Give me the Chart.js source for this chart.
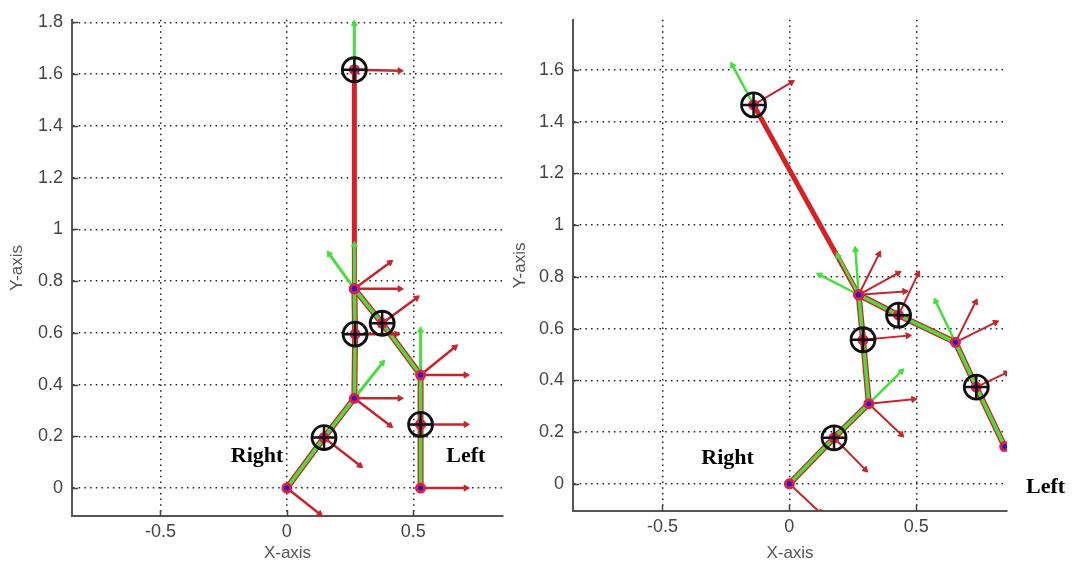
<!DOCTYPE html>
<html>
<head>
<meta charset="utf-8">
<script src="https://cdn.jsdelivr.net/npm/chart.js@4.4.0/dist/chart.umd.min.js"></script>
<style>
  html, body { margin: 0; padding: 0; background: #fff; }
  #wrap { position: relative; width: 1073px; height: 568px; overflow: hidden; }
  canvas { position: absolute; top: 0; }
</style>
</head>
<body>
<div id="wrap">
  <canvas id="leftChart" width="520" height="568" style="left:0"></canvas>
  <canvas id="rightChart" width="568" height="568" style="left:505px"></canvas>
</div>
<script>
// tick values
const xTicks = [-0.5, 0, 0.5];
const leftYTicks = [0, 0.2, 0.4, 0.6, 0.8, 1, 1.2, 1.4, 1.6, 1.8];
const rightYTicks = [0, 0.2, 0.4, 0.6, 0.8, 1, 1.2, 1.4, 1.6];

// left pose: joints [x, y]
const leftTorso = [[0.267, 0.77], [0.267, 1.617]];
const leftLegR = [[0.267, 0.77], [0.27, 0.595], [0.267, 0.347], [0.147, 0.195], [0, 0]];
const leftLegL = [[0.267, 0.77], [0.377, 0.637], [0.529, 0.437], [0.529, 0.246], [0.529, 0]];
const leftRings = [[0.267, 1.617], [0.27, 0.595], [0.377, 0.637], [0.147, 0.195], [0.529, 0.246]];
// frame axes [x0, y0, x1, y1]
const leftGreen = [
  [0.267, 1.617, 0.267, 1.795], [0.267, 0.77, 0.267, 0.94], [0.267, 0.77, 0.167, 0.905],
  [0.267, 0.347, 0.378, 0.484], [0.529, 0.437, 0.529, 0.61]
];
const leftRed = [
  [0.267, 1.617, 0.447, 1.613], [0.267, 0.77, 0.408, 0.872], [0.267, 0.77, 0.447, 0.77],
  [0.377, 0.637, 0.513, 0.735], [0.27, 0.595, 0.434, 0.595], [0.529, 0.437, 0.665, 0.545],
  [0.529, 0.437, 0.708, 0.437], [0.529, 0.246, 0.708, 0.246], [0.529, 0, 0.708, 0],
  [0.267, 0.347, 0.447, 0.347], [0.267, 0.347, 0.408, 0.242], [0.147, 0.195, 0.289, 0.087],
  [0, 0, 0.13, -0.1]
];
const leftLabels = [["Right", -0.118, 0.121], ["Left", 0.708, 0.121]];

// right pose
const rightTorso = [[0.273, 0.731], [-0.141, 1.465]];
const rightLegR = [[0.273, 0.731], [0.29, 0.557], [0.313, 0.31], [0.176, 0.178], [0, 0]];
const rightLegL = [[0.273, 0.731], [0.43, 0.652], [0.654, 0.547], [0.736, 0.374], [0.848, 0.144]];
const rightRings = [[-0.141, 1.465], [0.29, 0.557], [0.43, 0.652], [0.176, 0.178], [0.736, 0.374]];
const rightGreen = [
  [-0.141, 1.465, -0.224, 1.618], [0.273, 0.731, 0.191, 0.882], [0.273, 0.731, 0.119, 0.808],
  [0.273, 0.731, 0.26, 0.905], [0.654, 0.547, 0.576, 0.706], [0.313, 0.31, 0.441, 0.435]
];
const rightRed = [
  [-0.141, 1.465, 0.008, 1.552], [0.273, 0.731, 0.353, 0.888], [0.273, 0.731, 0.428, 0.815],
  [0.273, 0.731, 0.454, 0.744], [0.43, 0.652, 0.506, 0.811], [0.29, 0.557, 0.467, 0.573],
  [0.654, 0.547, 0.733, 0.703], [0.654, 0.547, 0.812, 0.624], [0.736, 0.374, 0.854, 0.429],
  [0.313, 0.31, 0.489, 0.327], [0.313, 0.31, 0.441, 0.19], [0.176, 0.178, 0.299, 0.055],
  [0, 0, 0.12, -0.11]
];
const rightLabels = [["Right", -0.243, 0.098], ["Left", 1.009, -0.013]];

const RED = "rgb(214,32,36)";
const DARKRED = "rgb(196,38,44)";
const GREEN = "rgb(72,222,66)";
const pts = arr => arr.map(p => ({ x: p[0], y: p[1] }));

function arrowAngle(ctx) {
  const d = ctx.dataset.data;
  const xs = ctx.chart.scales.x, ys = ctx.chart.scales.y;
  const dx = xs.getPixelForValue(d[1].x) - xs.getPixelForValue(d[0].x);
  const dy = ys.getPixelForValue(d[1].y) - ys.getPixelForValue(d[0].y);
  return Math.atan2(dx, -dy) * 180 / Math.PI;
}

function arrowSets(list, color, width, order) {
  return list.map(a => ({
    data: [{ x: a[0], y: a[1] }, { x: a[2], y: a[3] }],
    showLine: true, borderColor: color, borderWidth: width,
    pointRadius: [0, 3.5], pointStyle: "triangle",
    pointBackgroundColor: color, pointBorderColor: color, pointBorderWidth: 1,
    pointRotation: arrowAngle, order: order
  }));
}

const labelPlugin = {
  id: "poseLabels",
  beforeDatasetsDraw(chart) {
    const { ctx, chartArea } = chart;
    const xs = chart.scales.x, ys = chart.scales.y;
    ctx.save();
    ctx.strokeStyle = "#444";
    ctx.lineWidth = 1.5;
    ctx.beginPath();
    xs.ticks.forEach(t => {
      const px = Math.round(xs.getPixelForValue(t.value)) + 0.5;
      ctx.moveTo(px, chartArea.bottom); ctx.lineTo(px, chartArea.bottom - 6);
    });
    ys.ticks.forEach(t => {
      const py = Math.round(ys.getPixelForValue(t.value)) + 0.5;
      ctx.moveTo(chartArea.left, py); ctx.lineTo(chartArea.left + 6, py);
    });
    ctx.stroke();
    ctx.restore();
  },
  afterDraw(chart, args, opts) {
    const { ctx } = chart;
    const xs = chart.scales.x, ys = chart.scales.y;
    ctx.save();
    ctx.font = "bold 22px 'Liberation Serif', 'Times New Roman', serif";
    ctx.fillStyle = "#000";
    ctx.textAlign = "center";
    ctx.textBaseline = "middle";
    (opts.labels || []).forEach(l => {
      ctx.fillText(l[0], xs.getPixelForValue(l[1]), ys.getPixelForValue(l[2]));
    });
    ctx.restore();
  }
};

function makeChart(id, c) {
  const joints = [...c.torso, ...c.legR, ...c.legL];
  const datasets = [
    { data: pts(c.rings), pointStyle: "cross", pointRadius: 12, pointBorderColor: "#111", pointBorderWidth: 2.5, showLine: false, order: 0 },
    { data: pts(c.rings), pointStyle: "circle", pointRadius: 12, pointBackgroundColor: "rgba(0,0,0,0)", pointBorderColor: "#111", pointBorderWidth: 2.8, showLine: false, order: 0 },
    { data: pts(joints), pointStyle: "circle", pointRadius: 2.5, pointBackgroundColor: "#1a1ad0", pointBorderWidth: 0, showLine: false, order: 1 },
    { data: pts(joints), pointStyle: "circle", pointRadius: 5.5, pointBackgroundColor: "rgb(226,30,70)", pointBorderWidth: 0, showLine: false, order: 2 },
    ...arrowSets(c.green, GREEN, c.arrowWidth + 0.5, 3),
    ...arrowSets(c.red, DARKRED, c.arrowWidth, 4),
    { data: pts(c.legR), showLine: true, borderColor: GREEN, borderWidth: 3.5, pointRadius: 0, order: 5 },
    { data: pts(c.legL), showLine: true, borderColor: GREEN, borderWidth: 3.5, pointRadius: 0, order: 5 },
    { data: pts(c.legR), showLine: true, borderColor: RED, borderWidth: 6, pointRadius: 0, order: 6 },
    { data: pts(c.legL), showLine: true, borderColor: RED, borderWidth: 6, pointRadius: 0, order: 6 },
    { data: pts(c.torso), showLine: true, borderColor: RED, borderWidth: 5, pointRadius: 0, order: 6 }
  ];
  const tickFont = { family: "'Liberation Sans', Arial, sans-serif", size: 18 };
  const titleFont = { family: "'Liberation Sans', Arial, sans-serif", size: 17 };
  const fmt = v => String(Math.round(v * 10) / 10);
  return new Chart(document.getElementById(id).getContext("2d"), {
    type: "scatter",
    data: { datasets },
    plugins: [labelPlugin],
    options: {
      responsive: false,
      animation: false,
      devicePixelRatio: 1,
      layout: { padding: c.padding },
      plugins: { legend: { display: false }, tooltip: { enabled: false }, poseLabels: { labels: c.labels } },
      scales: {
        x: {
          type: "linear", min: c.xMin, max: c.xMax,
          afterBuildTicks: s => { s.ticks = xTicks.map(v => ({ value: v })); },
          afterFit: s => { s.height = c.xAxisHeight; },
          grid: { color: "#222", lineWidth: 1.5, drawTicks: false },
          border: { display: true, color: "#555", width: 2, dash: [1.5, 4.2] },
          ticks: { color: "#444", font: tickFont, padding: 5, callback: fmt, maxRotation: 0 },
          title: { display: true, text: "X-axis", color: "#555", font: titleFont, padding: { top: 0, bottom: 4 } }
        },
        y: {
          type: "linear", min: c.yMin, max: c.yMax,
          afterBuildTicks: s => { s.ticks = c.yTicks.map(v => ({ value: v })); },
          afterFit: s => { s.width = c.yAxisWidth; },
          grid: { color: "#222", lineWidth: 1.5, drawTicks: false },
          border: { display: true, color: "#555", width: 2, dash: [1.5, 4.2] },
          ticks: { color: "#444", font: tickFont, padding: 9, callback: fmt },
          title: { display: true, text: "Y-axis", color: "#555", font: titleFont, padding: { top: c.yTitlePad, bottom: 0 } }
        }
      }
    }
  });
}

makeChart("leftChart", {
  torso: leftTorso, legR: leftLegR, legL: leftLegL, rings: leftRings,
  green: leftGreen, red: leftRed, labels: leftLabels, yTicks: leftYTicks,
  xMin: -0.85, xMax: 0.855, yMin: -0.108, yMax: 1.81,
  padding: { top: 13, right: 17, bottom: 0, left: 0 },
  xAxisHeight: 52, yAxisWidth: 72, yTitlePad: 7, arrowWidth: 2.5
});

makeChart("rightChart", {
  torso: rightTorso, legR: rightLegR, legL: rightLegL, rings: rightRings,
  green: rightGreen, red: rightRed, labels: rightLabels, yTicks: rightYTicks,
  xMin: -0.852, xMax: 0.857, yMin: -0.105, yMax: 1.794,
  padding: { top: 15, right: 66, bottom: 0, left: 0 },
  xAxisHeight: 57, yAxisWidth: 68, yTitlePad: 5, arrowWidth: 2
});
</script>
</body>
</html>
